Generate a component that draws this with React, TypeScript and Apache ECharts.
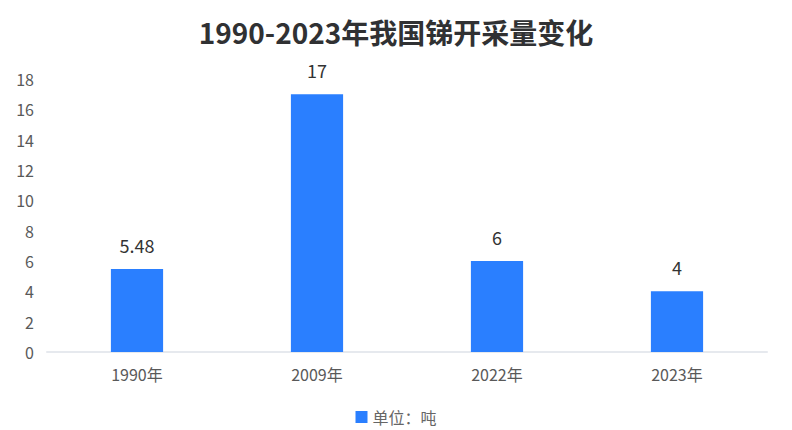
import React, { useEffect, useRef } from 'react'
import * as echarts from 'echarts'

const years = ['1990年', '2009年', '2022年', '2023年']
const output = [5.48, 17, 6, 4]
const seriesName = '单位：吨'

const App: React.FC = () => {
    const chartRef = useRef<HTMLDivElement>(null)

    useEffect(() => {
        if (!chartRef.current) {
            return
        }
        const chart = echarts.init(chartRef.current, null, { renderer: 'svg' })

        const option = {
            animation: false,
            textStyle: { fontFamily: '"Noto Sans CJK SC", "Noto Sans", sans-serif' },
            title: {
                text: '1990-2023年我国锑开采量变化',
                left: 'center',
                top: 13,
                textStyle: { fontSize: 28, fontWeight: 'bold', color: '#303133' },
            },
            legend: {
                bottom: 0,
                left: 'center',
                itemWidth: 12,
                itemHeight: 12,
                itemGap: 6,
                icon: 'rect',
                data: [seriesName],
                textStyle: { color: '#666', fontSize: 16 },
            },
            grid: { left: 47, right: 25, top: 79, bottom: 78 },
            xAxis: {
                type: 'category',
                data: years,
                axisLine: { lineStyle: { color: '#e6e9ee', width: 2 } },
                axisTick: { show: false },
                axisLabel: { color: '#595959', fontSize: 16, margin: 14 },
            },
            yAxis: {
                type: 'value',
                min: 0,
                max: 18,
                interval: 2,
                splitLine: { show: false },
                axisLine: { show: false },
                axisTick: { show: false },
                axisLabel: { color: '#595959', fontSize: 16, margin: 13 },
            },
            series: [
                {
                    name: seriesName,
                    type: 'bar',
                    data: output,
                    barWidth: '29%',
                    itemStyle: { color: '#2a7fff' },
                    label: {
                        show: true,
                        position: 'top',
                        distance: 15,
                        color: '#333',
                        fontSize: 18,
                    },
                },
            ],
        }

        chart.setOption(option)

        return () => {
            chart.dispose()
        }
    }, [])

    return (
        <div
            ref={chartRef}
            style={{ position: 'absolute', left: 0, top: 0, width: '792px', height: '430px', background: '#fff' }}
        />
    )
}

export default App
